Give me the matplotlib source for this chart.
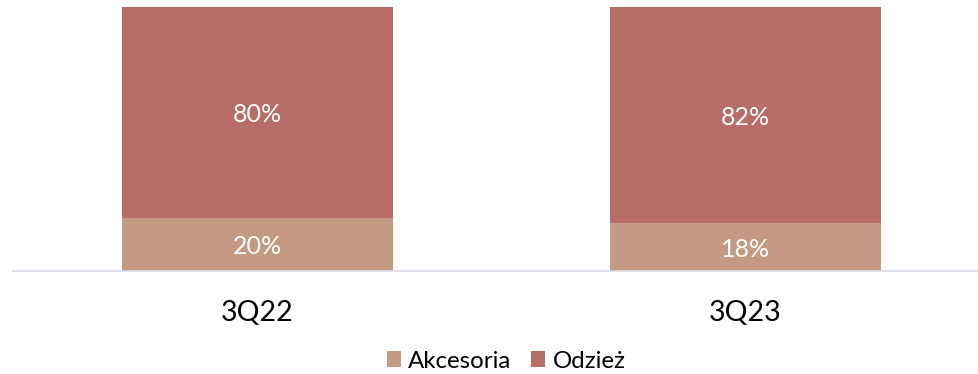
import matplotlib.pyplot as plt
import numpy as np

plt.rcParams['font.family'] = ['Lato', 'DejaVu Sans']

categories = ["3Q22", "3Q23"]
akcesoria = [20, 18]
odziez = [80, 82]
series_names = ["Akcesoria", "Odzież"]
colors = ["#C49A82", "#B76E68"]

W, H = 979, 374
fig = plt.figure(figsize=(W / 100, H / 100), dpi=100)
ax = fig.add_axes([13.5 / W, 1 - 271 / H, 976 / W, (271 - 7) / H])

x = np.arange(len(categories))
width = 0.555
b1 = ax.bar(x, akcesoria, width, color=colors[0], label=series_names[0])
b2 = ax.bar(x, odziez, width, bottom=akcesoria, color=colors[1], label=series_names[1])

for bars, vals, bottoms in [(b1, akcesoria, [0, 0]), (b2, odziez, akcesoria)]:
    for rect, v, b in zip(bars, vals, bottoms):
        ax.text(rect.get_x() + rect.get_width() / 2, b + v / 2, f"{v}%",
                ha="center", va="center_baseline", color="white", fontsize=18)

ax.set_xlim(-0.5, 1.5)
ax.set_ylim(0, 100)
for s in ["top", "right", "left"]:
    ax.spines[s].set_visible(False)
ax.spines["bottom"].set_color("#D9DCE6")
ax.spines["bottom"].set_linewidth(1.2)
ax.set_yticks([])
ax.set_xticks(x)
ax.set_xticklabels(categories, fontsize=20.5)
ax.tick_params(axis="x", length=0, pad=21)

fig.legend(loc="center", bbox_to_anchor=(506 / W, 1 - 361 / H), ncol=2, frameon=False,
           fontsize=17.3, handlelength=0.6, handleheight=0.6, handletextpad=0.3,
           columnspacing=0.8)

fig.savefig("out.png", dpi=100)
